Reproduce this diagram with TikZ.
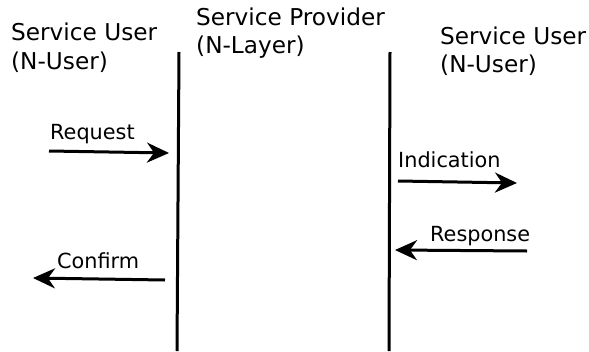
\documentclass[tikz,border=0pt]{standalone}
\usepackage{fontspec}
\setmainfont{DejaVu Sans}
\usetikzlibrary{arrows.meta}
\begin{document}
\begin{tikzpicture}[x=1pt,y=-1pt,
  head/.style={anchor=base west,inner sep=0pt,font=\fontsize{23.2}{27}\selectfont},
  lbl/.style={anchor=base west,inner sep=0pt,font=\fontsize{20.8}{24}\selectfont},
  life/.style={line width=3pt},
  msg/.style={line width=3pt,-{Stealth[length=22pt,width=20pt,inset=7pt]}}]
\useasboundingbox (0,0) rectangle (589,351);
\node[head] (u1a) at (11,40) {Service User};
\node[head] (u1b) at (11,69) {(N-User)};
\node[head] (pa) at (196,25) {Service Provider};
\node[head] (pb) at (196,53) {(N-Layer)};
\node[head] (u2a) at (440,44) {Service User};
\node[head] (u2b) at (440,72) {(N-User)};
\coordinate (l1t) at (179,52);
\coordinate (l1b) at (177,351);
\coordinate (l2t) at (390,52);
\coordinate (l2b) at (389,351);
\draw[life] (l1t) -- (l1b);
\draw[life] (l2t) -- (l2b);
\coordinate (rqa) at (49,151);
\coordinate (rqb) at (169,153);
\coordinate (ina) at (398,181);
\coordinate (inb) at (517,183);
\coordinate (rsa) at (527,251);
\coordinate (rsb) at (395,250);
\coordinate (cfa) at (165,280);
\coordinate (cfb) at (33,278);
\draw[msg] (rqa) -- (rqb);
\draw[msg] (ina) -- (inb);
\draw[msg] (rsa) -- (rsb);
\draw[msg] (cfa) -- (cfb);
\node[lbl] (rq) at (50,139) {Request};
\node[lbl] (in) at (398,167.5) {Indication};
\node[lbl] (rs) at (430,241) {Response};
\node[lbl] (cf) at (57,268) {Confirm};
\end{tikzpicture}
\end{document}
